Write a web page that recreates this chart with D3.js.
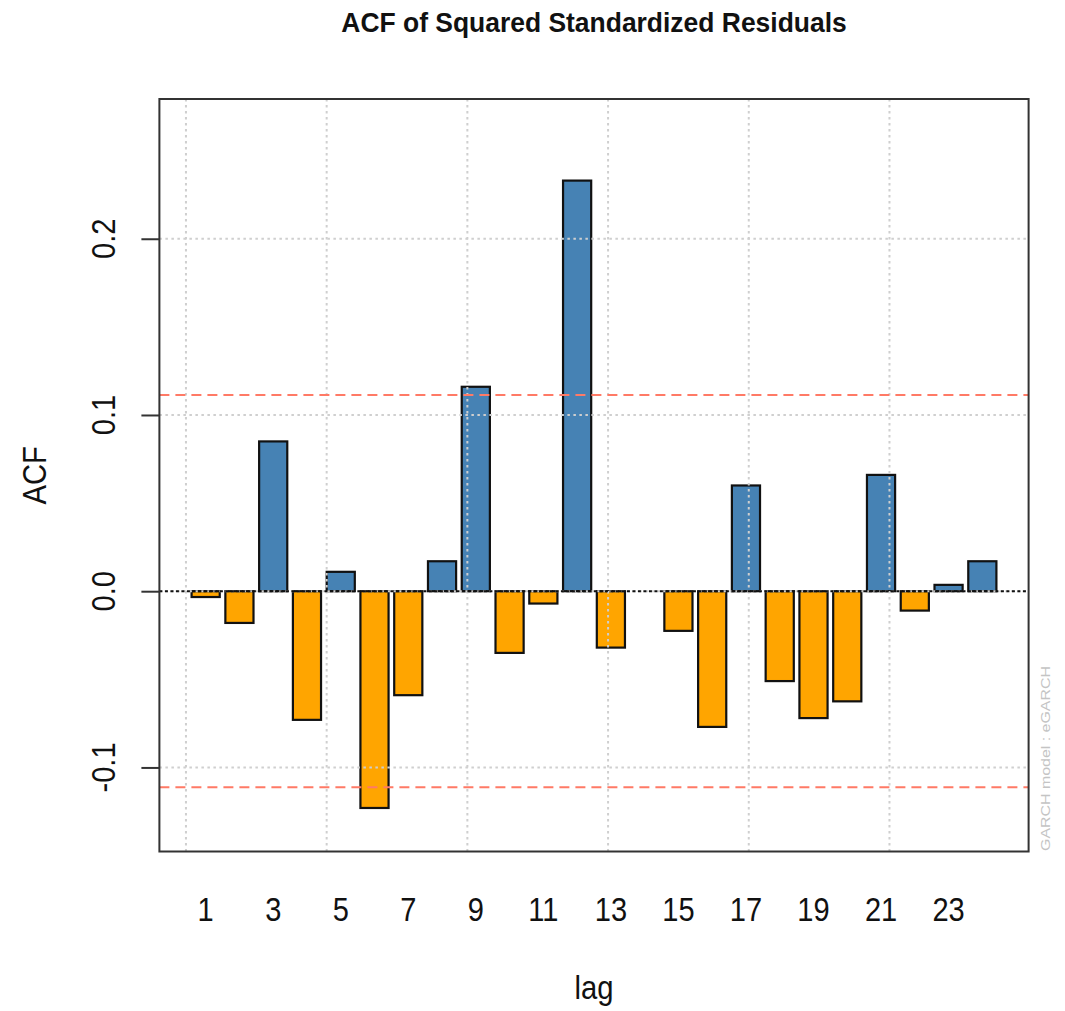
<!DOCTYPE html>
<html>
<head>
<meta charset="utf-8">
<script src="https://cdn.jsdelivr.net/npm/d3@7"></script>
<style>
  html, body { margin: 0; padding: 0; background: #fff; }
  svg { display: block; }
  text { font-family: "Liberation Sans", Arial, sans-serif; }
</style>
</head>
<body>
<svg id="chart" width="1065" height="1011"></svg>
<script>
// Autocorrelation of squared standardized residuals, lags 1..24
const lags = d3.range(1, 25);
const acfValues = [
  -0.0033, -0.018, 0.085, -0.073, 0.011, -0.123, -0.059, 0.017,
   0.116, -0.035, -0.007, 0.233, -0.032, 0.000, -0.0225, -0.077,
   0.060, -0.051, -0.072, -0.0625, 0.066, -0.011, 0.0036, 0.017
];
// ±1.96/sqrt(n) significance bound
const confBound = 0.1113;
const yTicks = [-0.1, 0.0, 0.1, 0.2];
const yTickLabels = ["-0.1", "0.0", "0.1", "0.2"];
const xGridTicks = [0, 5, 10, 15, 20, 25];
const xLabelLags = [1, 3, 5, 7, 9, 11, 13, 15, 17, 19, 21, 23];

const titleText = "ACF of Squared Standardized Residuals";
const xTitle = "lag";
const yTitle = "ACF";
const footnote = "GARCH model : eGARCH";

// barplot geometry: bar width 1, space 0.2
const barWidth = 1, barSpace = 0.2;
const barLeft = i => barSpace + i * (barWidth + barSpace);
const barCenter = i => barLeft(i) + barWidth / 2;

const plot = { left: 159.4, right: 1028.6, top: 99, bottom: 851.5 };

const x = d3.scaleLinear().domain([-0.944, 29.944]).range([plot.left, plot.right]);
const y = d3.scaleLinear().domain([-0.1477, 0.2793]).range([plot.bottom, plot.top]);

const svg = d3.select("#chart");

// bars
svg.append("g").selectAll("rect")
  .data(acfValues)
  .join("rect")
  .attr("x", (d, i) => x(barLeft(i)))
  .attr("width", (d, i) => x(barLeft(i) + barWidth) - x(barLeft(i)))
  .attr("y", d => y(Math.max(0, d)))
  .attr("height", d => Math.abs(y(d) - y(0)))
  .attr("fill", d => d >= 0 ? "#4682B4" : "#FFA500")
  .attr("stroke", "#111")
  .attr("stroke-width", 2.2);

// grid
const grid = svg.append("g")
  .attr("stroke", "#cfcfcf")
  .attr("stroke-width", 2)
  .attr("stroke-dasharray", "2.5,3.5");
grid.selectAll(".gx").data(xGridTicks).join("line")
  .attr("x1", d => x(d)).attr("x2", d => x(d))
  .attr("y1", plot.top).attr("y2", plot.bottom);
grid.selectAll(".gy").data(yTicks).join("line")
  .attr("x1", plot.left).attr("x2", plot.right)
  .attr("y1", d => y(d)).attr("y2", d => y(d));

// zero reference line
svg.append("line")
  .attr("x1", plot.left).attr("x2", plot.right)
  .attr("y1", y(0)).attr("y2", y(0))
  .attr("stroke", "#111").attr("stroke-width", 2)
  .attr("stroke-dasharray", "3,2.5");

// significance bounds
svg.append("g").selectAll("line")
  .data([confBound, -confBound])
  .join("line")
  .attr("x1", plot.left).attr("x2", plot.right)
  .attr("y1", d => y(d)).attr("y2", d => y(d))
  .attr("stroke", "#FF7A66").attr("stroke-width", 2)
  .attr("stroke-dasharray", "10,6");

// plot frame
svg.append("rect")
  .attr("x", plot.left).attr("y", plot.top)
  .attr("width", plot.right - plot.left)
  .attr("height", plot.bottom - plot.top)
  .attr("fill", "none").attr("stroke", "#333").attr("stroke-width", 2);

// y axis ticks
const yAxis = d3.axisLeft(y)
  .tickValues(yTicks)
  .tickSize(18)
  .tickFormat("");
const yAxisG = svg.append("g")
  .attr("transform", `translate(${plot.left},0)`)
  .call(yAxis);
yAxisG.select(".domain").remove();
yAxisG.selectAll(".tick line").attr("stroke", "#333").attr("stroke-width", 2);

// y tick labels (rotated)
svg.append("g").selectAll("text")
  .data(yTicks)
  .join("text")
  .attr("transform", d => `translate(115,${y(d)}) rotate(-90) scale(0.88,1)`)
  .attr("text-anchor", "middle")
  .attr("font-size", 33)
  .attr("fill", "#111")
  .text((d, i) => yTickLabels[i]);

// x tick labels under bars
svg.append("g").selectAll("text")
  .data(xLabelLags)
  .join("text")
  .attr("transform", d => `translate(${x(barCenter(d - 1))},921) scale(0.88,1)`)
  .attr("text-anchor", "middle")
  .attr("font-size", 33)
  .attr("fill", "#111")
  .text(d => d);

// titles
const midX = (plot.left + plot.right) / 2;
svg.append("text")
  .attr("transform", `translate(${midX},32) scale(0.98,1.03)`)
  .attr("text-anchor", "middle")
  .attr("font-size", 27)
  .attr("font-weight", "bold")
  .attr("fill", "#111")
  .text(titleText);

svg.append("text")
  .attr("transform", `translate(${midX},999) scale(0.86,1)`)
  .attr("text-anchor", "middle")
  .attr("font-size", 34)
  .attr("fill", "#111")
  .text(xTitle);

svg.append("text")
  .attr("transform", `translate(46,${(plot.top + plot.bottom) / 2}) rotate(-90) scale(0.86,1)`)
  .attr("text-anchor", "middle")
  .attr("font-size", 34)
  .attr("fill", "#111")
  .text(yTitle);

svg.append("text")
  .attr("transform", `translate(1050,851) rotate(-90)`)
  .attr("text-anchor", "start")
  .attr("font-size", 13)
  .attr("fill", "#c4c4c4")
  .attr("textLength", 185)
  .attr("lengthAdjust", "spacingAndGlyphs")
  .text(footnote);
</script>
</body>
</html>
